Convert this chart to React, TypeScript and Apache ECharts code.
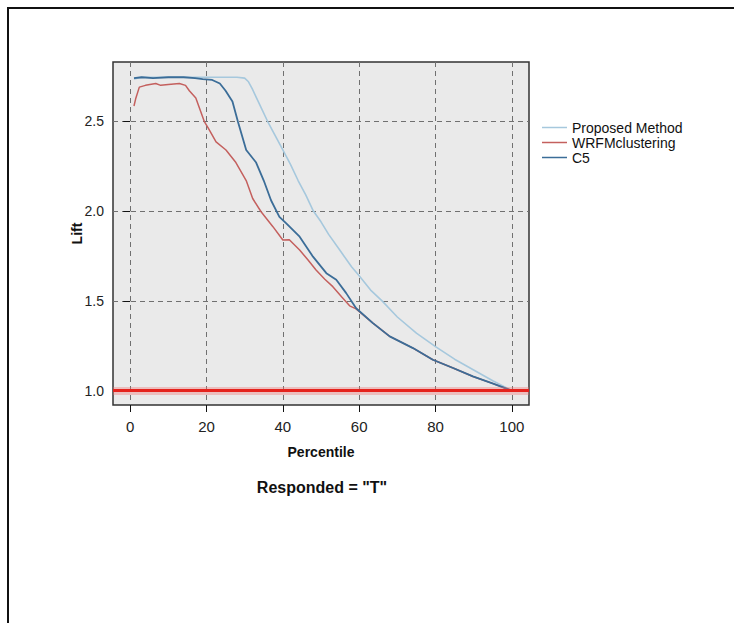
import React, { useEffect, useRef } from "react";
import * as echarts from "echarts";

// Percentile positions and lift values
const proposedPct = [1, 3, 5, 10, 15, 20, 25, 28, 30, 31, 32, 34, 36, 38, 40, 42, 44, 46, 48, 50, 52, 55, 58, 60, 63, 66, 70, 75, 80, 85, 90, 95, 100];
const proposedLift = [2.735, 2.745, 2.745, 2.745, 2.745, 2.745, 2.745, 2.745, 2.74, 2.72, 2.68, 2.59, 2.5, 2.42, 2.34, 2.26, 2.17, 2.09, 2.0, 1.94, 1.87, 1.78, 1.69, 1.64, 1.56, 1.5, 1.41, 1.32, 1.245, 1.175, 1.115, 1.055, 1.0];

const wrfmPct = [1, 1.5, 2.4, 4, 6.7, 8, 10, 12.9, 14.5, 15.5, 17.2, 19.4, 20.5, 22.5, 25.1, 27.7, 30.4, 32.1, 34.3, 37.4, 40, 41.7, 44.4, 46.5, 48.7, 51, 53.1, 55.5, 57.5, 59.2, 63.6, 68, 74.1, 79.3, 84.6, 89.8, 95.1, 100];
const wrfmLift = [2.585, 2.63, 2.69, 2.7, 2.71, 2.7, 2.705, 2.71, 2.7, 2.67, 2.63, 2.5, 2.46, 2.385, 2.34, 2.27, 2.17, 2.07, 1.996, 1.913, 1.839, 1.84, 1.783, 1.73, 1.672, 1.62, 1.579, 1.52, 1.472, 1.455, 1.376, 1.302, 1.237, 1.172, 1.126, 1.079, 1.039, 1.0];

const c5Pct = [1, 3, 6, 10, 14, 17, 19, 21.5, 23.5, 25, 26.8, 28.2, 30.4, 33, 35, 36.9, 39.1, 40.9, 44.4, 47.9, 51.4, 54, 56.6, 59.2, 63.6, 68, 74.1, 79.3, 84.6, 89.8, 95.1, 100];
const c5Lift = [2.74, 2.745, 2.74, 2.745, 2.745, 2.74, 2.735, 2.73, 2.71, 2.67, 2.61, 2.5, 2.34, 2.27, 2.17, 2.06, 1.968, 1.931, 1.857, 1.746, 1.654, 1.617, 1.543, 1.459, 1.376, 1.302, 1.237, 1.172, 1.126, 1.079, 1.039, 1.0];

const seriesNames = ["Proposed Method", "WRFMclustering", "C5"];
const xTicks = [0, 20, 40, 60, 80, 100];
const yTicks = [1.0, 1.5, 2.0, 2.5];
const baselineLift = 1.0;

const FONT = "'Liberation Sans', Arial, sans-serif";

function pairs(xs: number[], ys: number[]) {
  return xs.map((x, i) => [x, ys[i]]);
}

export default function App() {
  const ref = useRef<HTMLDivElement>(null);
  useEffect(() => {
    if (!ref.current) return;
    const chart = echarts.init(ref.current, null, { renderer: "svg" });
    const lineBase = {
      type: "line",
      showSymbol: false,
      symbol: "none",
      smooth: false,
      silent: true,
    };
    chart.setOption({
      animation: false,
      backgroundColor: "#ffffff",
      textStyle: { fontFamily: FONT },
      grid: {
        left: 113,
        top: 62,
        width: 416,
        height: 343,
        show: true,
        backgroundColor: "#eaeaea",
        borderColor: "#333333",
        borderWidth: 1.5,
      },
      legend: {
        data: seriesNames,
        orient: "vertical",
        left: 537,
        top: 115,
        icon: "rect",
        itemWidth: 25,
        itemHeight: 1.5,
        itemGap: 0,
        textStyle: { fontFamily: FONT, fontSize: 14, color: "#111", lineHeight: 15 },
      },
      xAxis: {
        type: "value",
        min: -4.5,
        max: 104.5,
        name: "Percentile",
        nameLocation: "middle",
        nameGap: 40,
        nameMoveOverlap: false,
        nameTextStyle: { fontFamily: FONT, fontWeight: "bold", fontSize: 14, color: "#111" },
        axisLine: { show: false },
        axisTick: { show: true, customValues: xTicks, length: 7, lineStyle: { color: "#111", width: 1 } },
        axisLabel: { customValues: xTicks, margin: 14, fontSize: 15, color: "#222", fontFamily: FONT },
        splitLine: { show: true, lineStyle: { color: "#707070", type: [5, 4], width: 1 } },
      },
      yAxis: {
        type: "value",
        min: 0.92,
        max: 2.83,
        name: "Lift",
        nameLocation: "middle",
        nameGap: 29,
        nameMoveOverlap: false,
        nameTextStyle: { fontFamily: FONT, fontWeight: "bold", fontSize: 14, color: "#111" },
        axisLine: { show: false },
        axisTick: { show: true, customValues: yTicks, length: 7, lineStyle: { color: "#111", width: 1 } },
        axisLabel: {
          customValues: yTicks,
          margin: 9,
          fontSize: 14,
          color: "#222",
          fontFamily: FONT,
          formatter: (v: number) => v.toFixed(1),
        },
        splitLine: { show: true, lineStyle: { color: "#707070", type: [5, 4], width: 1 } },
      },
      graphic: [
        {
          type: "rect",
          shape: { x: 8, y: 8, width: 900, height: 800 },
          style: { fill: "none", stroke: "#111", lineWidth: 2 },
          silent: true,
        },
        {
          type: "text",
          x: 322,
          y: 487,
          style: {
            text: 'Responded = "T"',
            fontFamily: FONT,
            fontWeight: "bold",
            fontSize: 16,
            fill: "#111",
            textAlign: "center",
            textVerticalAlign: "middle",
          },
        },
      ],
      series: [
        {
          ...lineBase,
          name: "baseline",
          data: [],
          markLine: {
            silent: true,
            symbol: "none",
            label: { show: false },
            data: [
              { yAxis: baselineLift, lineStyle: { color: "rgba(240,110,110,0.35)", width: 8, type: "solid" } },
              { yAxis: baselineLift, lineStyle: { color: "#e5231d", width: 3, type: "solid" } },
            ],
          },
        },
        {
          ...lineBase,
          name: seriesNames[0],
          data: pairs(proposedPct, proposedLift),
          itemStyle: { color: "#a6c8dd" },
          lineStyle: { color: "#a6c8dd", width: 1.6 },
        },
        {
          ...lineBase,
          name: seriesNames[1],
          data: pairs(wrfmPct, wrfmLift),
          itemStyle: { color: "#c4605e" },
          lineStyle: { color: "#c4605e", width: 1.5 },
        },
        {
          ...lineBase,
          name: seriesNames[2],
          data: pairs(c5Pct, c5Lift),
          itemStyle: { color: "#3b6d98" },
          lineStyle: { color: "#3b6d98", width: 1.8 },
        },
      ],
    });
    return () => chart.dispose();
  }, []);
  return (
    <div
      ref={ref}
      style={{ position: "absolute", left: 0, top: 0, width: 734, height: 623 }}
    />
  );
}
